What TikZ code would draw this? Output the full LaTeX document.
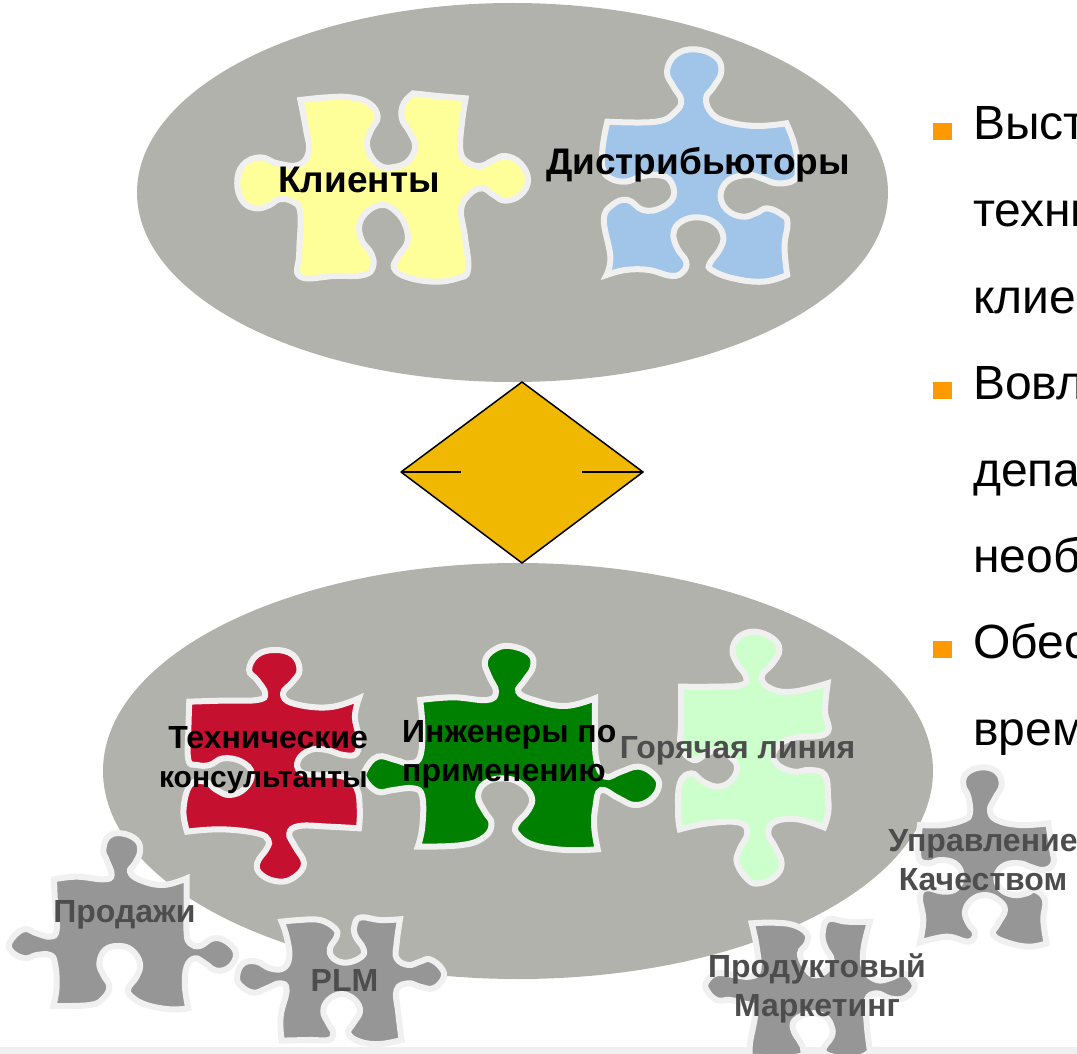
\documentclass[tikz,border=0pt]{standalone}
\usepackage{fontspec}
\setmainfont{Liberation Sans}
\definecolor{ell}{HTML}{B2B2AC}
\definecolor{rim}{HTML}{F0F0F0}
\definecolor{pgray}{HTML}{969696}
\definecolor{lblgray}{HTML}{4D4D4D}
\definecolor{amber}{HTML}{F0B800}
\definecolor{bul}{HTML}{FF9900}
\definecolor{pyellow}{HTML}{FFFF99}
\definecolor{pblue}{HTML}{A0C5E8}
\definecolor{pred}{HTML}{C5112F}
\definecolor{pgreen}{HTML}{008000}
\definecolor{pmint}{HTML}{CCFFCC}
\tikzset{
  piece/.style={draw=rim,line width=6pt,line join=miter,miter limit=4},
  seg/.style={smooth,tension=0.7},
  lbl/.style={font=\fontsize{32}{39}\selectfont\bfseries,inner sep=0pt,text=black},
  lblg/.style={lbl,text=lblgray},
  lbltop/.style={lbl,font=\fontsize{37}{39}\selectfont\bfseries},
  para/.style={font=\fontsize{48}{50}\selectfont,anchor=base west,inner sep=0pt,text=black},
  bulletsq/.style={fill=bul,draw=none}
}
\begin{document}
\begin{tikzpicture}[x=1pt,y=-1pt]
\clip (0,0) rectangle (1077,1054);
\fill[white] (0,0) rectangle (1077,1054);
\fill[rim] (0,1047) rectangle (1077,1054);
% ellipses
\fill[ell] (512.5,192.5) ellipse [x radius=375.5,y radius=189.5];
\fill[ell] (518,771) ellipse [x radius=415,y radius=208];
% diamond
\coordinate (dt) at (522,382);
\coordinate (dr) at (643,472);
\coordinate (db) at (522,563);
\coordinate (dl) at (401,472);
\coordinate (dli) at (461,472);
\coordinate (dri) at (582,472);
\draw[fill=amber,line width=1.5pt,line join=round] (dt)--(dr)--(db)--(dl)--cycle;
\draw[line width=2pt] (dl)--(dli);
\draw[line width=2pt] (dr)--(dri);
% top pieces
\begin{scope}[shift={(220,40)},x=0.3827pt,y=-0.3333pt]
\path[piece,fill=pyellow]
 plot[seg] coordinates {(210,180)(280,172)(340,172)(390,190)(412,230)(395,270)(384,310)(395,350)(420,378)(450,382)(490,365)(510,320)(495,275)(475,235)(480,190)(505,160)}
 -- plot[seg] coordinates {(505,160)(570,168)(642,175)}
 -- plot[seg] coordinates {(642,175)(632,250)(628,330)(645,365)(680,378)(715,360)(745,348)(785,370)(805,420)(785,465)(745,482)(715,465)(685,445)(650,465)(630,510)(640,590)(648,690)(620,715)(560,725)(490,712)(455,685)(465,650)(490,605)(482,550)(455,510)(425,495)(390,510)(365,550)(370,600)(395,640)(400,680)(375,705)(300,708)(210,710)(207,640)(210,520)(190,485)(155,478)(130,495)(95,505)(60,485)(45,430)(60,375)(105,352)(150,370)(205,375)(232,335)(225,270)(210,180)}
 -- cycle;
\path[piece,fill=pblue]
 plot[seg] coordinates {(1012,245)(1140,245)(1190,215)(1205,180)(1185,140)(1168,95)(1190,45)(1240,28)(1295,50)(1310,95)(1290,140)(1270,175)(1285,220)(1325,245)(1400,258)(1480,250)}
 -- plot[seg] coordinates {(1480,250)(1500,310)(1510,380)(1500,420)(1455,430)(1415,415)(1380,405)(1330,420)(1308,465)(1325,510)(1365,530)(1400,520)(1430,505)(1470,525)(1483,550)(1475,620)(1482,705)}
 -- plot[seg] coordinates {(1482,705)(1420,725)(1340,715)(1285,690)(1280,670)(1305,630)(1315,590)(1295,550)(1250,532)(1205,545)(1185,580)(1195,625)(1218,665)(1210,695)(1180,708)(1120,690)(1060,690)(1010,705)}
 -- plot[seg] coordinates {(1010,705)(1020,650)(1003,540)(1025,495)(1065,480)(1105,510)(1150,505)(1185,470)(1175,420)(1140,405)(1100,410)(1060,425)(1020,415)(1000,385)(1000,320)(1012,245)}
 -- cycle;
\end{scope}
% middle pieces
\begin{scope}[shift={(150,620)},x=0.4464pt,y=-0.3333pt]
\path[piece,fill=pred]
 plot[seg] coordinates {(88,245)(160,242)(240,240)(258,220)(240,180)(222,150)(240,105)(280,90)(320,105)(335,150)(320,185)(298,220)(320,250)(400,262)(468,235)}
 -- plot[seg] coordinates {(468,235)(459,290)(467,350)(463,400)(433,405)(396,390)(359,390)(332,420)(336,455)(366,465)(433,470)(463,505)(470,570)(468,625)}
 -- plot[seg] coordinates {(468,625)(400,620)(335,618)(312,640)(325,680)(345,730)(325,770)(290,785)(250,765)(240,730)(262,685)(265,660)(240,640)(160,628)(83,635)}
 -- plot[seg] coordinates {(83,635)(75,570)(90,495)(123,485)(149,510)(179,525)(213,505)(228,460)(205,425)(164,415)(134,435)(105,435)(86,420)(86,330)(88,245)}
 -- cycle;
\path[piece,fill=pgreen]
 plot[seg] coordinates {(605,240)(680,232)(755,240)(775,215)(760,170)(750,125)(770,90)(805,78)(850,100)(858,140)(840,180)(825,215)(860,240)(930,258)(997,235)}
 -- plot[seg] coordinates {(997,235)(997,330)(1000,420)(1020,470)(1055,455)(1095,440)(1130,465)(1140,500)(1120,540)(1085,555)(1050,535)(1010,510)(998,560)(995,620)(1003,688)}
 -- plot[seg] coordinates {(1003,688)(930,690)(860,675)(825,645)(820,615)(848,570)(855,530)(830,490)(790,475)(750,490)(735,530)(750,575)(765,610)(750,650)(700,675)(600,680)}
 -- plot[seg] coordinates {(600,680)(610,620)(610,530)(590,505)(545,510)(510,515)(482,480)(482,450)(510,410)(550,420)(580,430)(605,410)(610,320)(605,240)}
 -- cycle;
\path[piece,fill=pmint]
 plot[seg] coordinates {(1190,200)(1260,200)(1325,195)(1335,170)(1315,130)(1305,90)(1320,50)(1355,35)(1395,55)(1410,90)(1395,130)(1370,170)(1390,205)(1440,215)(1518,190)}
 -- plot[seg] coordinates {(1518,190)(1512,270)(1515,340)(1437,355)(1400,390)(1403,430)(1441,455)(1478,450)(1512,465)(1519,530)(1519,580)(1510,622)}
 -- plot[seg] coordinates {(1510,622)(1450,598)(1400,605)(1385,640)(1400,680)(1415,730)(1400,770)(1365,790)(1340,780)(1315,730)(1320,690)(1338,640)(1320,608)(1250,610)(1187,628)}
 -- plot[seg] coordinates {(1187,628)(1183,580)(1187,490)(1213,460)(1239,485)(1273,500)(1303,480)(1315,440)(1299,410)(1269,390)(1243,405)(1217,420)(1190,380)(1190,300)(1190,200)}
 -- cycle;
\end{scope}
% gray pieces
\begin{scope}[shift={(0,820)},x=0.3333pt,y=-0.3333pt]
\path[piece,fill=pgray]
 plot[seg] coordinates {(162,178)(230,170)(310,178)(335,165)(320,120)(310,90)(325,50)(365,40)(410,60)(420,95)(405,130)(390,155)(420,180)(490,195)(560,175)}
 -- plot[seg] coordinates {(560,175)(560,260)(560,340)(570,370)(600,378)(640,355)(680,365)(708,400)(690,440)(650,452)(615,430)(585,415)(560,440)(555,500)(565,565)}
 -- plot[seg] coordinates {(565,565)(510,568)(440,555)(395,530)(385,505)(410,470)(420,430)(395,390)(355,378)(315,390)(298,430)(310,465)(328,500)(310,535)(270,555)(160,558)}
 -- plot[seg] coordinates {(160,558)(170,500)(165,430)(150,405)(110,405)(75,415)(35,395)(30,365)(70,328)(110,340)(150,350)(170,330)(165,250)(162,178)}
 -- cycle;
\path[piece,fill=pgray]
 plot[seg] coordinates {(845,305)(900,300)(960,300)(1005,325)(1010,350)(990,385)(1000,415)(1040,428)(1085,410)(1090,385)(1065,345)(1065,310)(1085,292)(1140,300)(1200,298)}
 -- plot[seg] coordinates {(1200,298)(1190,370)(1190,415)(1225,435)(1260,425)(1290,418)(1325,445)(1330,475)(1300,505)(1260,500)(1225,490)(1190,510)(1195,580)(1205,660)}
 -- plot[seg] coordinates {(1205,660)(1140,672)(1080,665)(1045,640)(1060,610)(1080,575)(1065,540)(1025,522)(985,540)(970,575)(985,610)(1000,640)(985,660)(930,660)(845,662)}
 -- plot[seg] coordinates {(845,662)(842,590)(860,510)(840,490)(800,505)(760,518)(720,495)(712,465)(730,430)(770,425)(810,445)(850,445)(868,410)(860,350)(845,305)}
 -- cycle;
\end{scope}
\begin{scope}[shift={(690,760)},x=0.3333pt,y=-0.3333pt]
\path[piece,fill=pgray]
 plot[seg] coordinates {(690,195)(760,195)(820,180)(840,160)(835,110)(820,75)(830,40)(875,22)(920,35)(935,75)(915,115)(900,150)(920,180)(990,195)(1075,190)}
 -- plot[seg] coordinates {(1075,190)(1085,260)(1090,310)(1060,330)(1020,320)(990,310)(945,315)(920,345)(930,385)(970,405)(1010,400)(1035,390)(1065,420)(1060,480)(1070,550)}
 -- plot[seg] coordinates {(1070,550)(1020,560)(960,550)(910,525)(925,490)(945,450)(925,420)(885,405)(845,420)(825,455)(835,490)(855,520)(835,545)(770,530)(690,548)}
 -- plot[seg] coordinates {(690,548)(700,480)(690,410)(710,385)(760,395)(800,385)(815,345)(795,310)(750,300)(715,310)(685,290)(690,195)}
 -- cycle;
\end{scope}
\begin{scope}[shift={(700,910)},x=0.3333pt,y=-0.3333pt]
\path[piece,fill=pgray]
 plot[seg] coordinates {(155,40)(220,38)(280,45)(320,70)(320,100)(300,130)(315,170)(340,195)(375,185)(395,150)(375,110)(368,70)(385,28)(440,35)(510,35)}
 -- plot[seg] coordinates {(510,35)(490,120)(495,180)(530,210)(570,205)(610,190)(640,215)(640,240)(610,265)(570,265)(530,250)(500,270)(500,340)(510,425)}
 -- plot[seg] coordinates {(510,425)(470,445)(400,440)(370,420)(395,380)(395,350)(375,320)(330,310)(285,330)(280,360)(300,395)(310,420)(290,440)(150,440)}
 -- plot[seg] coordinates {(150,440)(150,400)(165,300)(130,280)(90,270)(50,270)(20,240)(20,215)(50,190)(100,195)(150,200)(175,180)(170,110)(155,40)}
 -- cycle;
\end{scope}
% labels
\node[lbltop] (klienty) at (359,180) {Клиенты};
\node[lbltop] (distr) at (698,165) {Дистрибьюторы};
\node[lbl,align=right,anchor=east] (tech) at (368,760) {Технические\\{\fontsize{30}{39}\selectfont консультанты}};
\node[lbl,align=left,anchor=west] (eng) at (402,754) {Инженеры по\\применению};
\node[lblg] (hot) at (737.5,751) {Горячая линия};
\node[lblg,align=center] (qual) at (983,860.5) {Управление\\Качеством};
\node[lblg] (sales) at (124.5,915) {Продажи};
\node[lblg] (plm) at (344.5,980) {PLM};
\node[lblg,align=center] (mkt) at (817,988) {Продуктовый\\Маркетинг};
% bullets and clipped text
\fill[bulletsq] (933,123) rectangle (952,140);
\fill[bulletsq] (933,382) rectangle (952,399);
\fill[bulletsq] (933,641) rectangle (952,658);
\node[para] (t1) at (973,140) {Выст};
\node[para] (t2) at (973,226.5) {техни};
\node[para] (t3) at (973,313) {клие};
\node[para] (t4) at (973,399.5) {Вовл};
\node[para] (t5) at (973,486) {депа};
\node[para] (t6) at (973,572) {необ};
\node[para] (t7) at (973,658.5) {Обес};
\node[para] (t8) at (973,745) {врем};
\end{tikzpicture}
\end{document}
